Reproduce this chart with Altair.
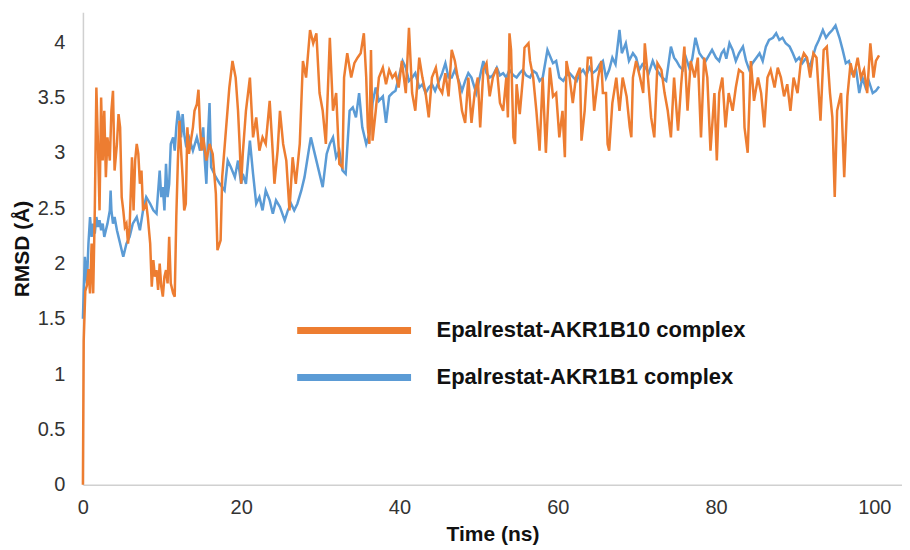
import altair as alt
import pandas as pd

S1 = "Epalrestat-AKR1B10 complex"
S2 = "Epalrestat-AKR1B1 complex"

time_b10 = [0,0.1,0.3,0.5,0.7,0.9,1.1,1.3,1.5,1.7,1.9,2.1,2.3,2.5,2.7,2.9,3.1,3.4,3.6,3.8,4.0,4.3,4.5,4.7,4.9,5.1,5.3,5.5,5.7,5.9,6.2,6.4,6.6,6.8,7.0,7.2,7.4,7.6,8.0,8.2,8.5,8.7,8.9,9.1,9.3,9.5,9.7,9.9,10.1,10.3,10.5,10.7,10.9,11.1,11.4,11.6,11.8,12.0,12.2,12.4,12.6,12.8,13.0,13.2,13.4,13.9,14.1,14.4,14.6,14.8,15.0,15.2,15.6,16.0,16.4,16.8,17.0,17.4,17.6,18.0,18.5,18.9,19.3,19.6,19.8,20.0,20.2,20.6,21.1,21.5,21.9,22.3,22.7,23.1,23.6,24.0,24.2,24.6,24.9,25.3,25.7,26.1,26.5,26.9,27.4,27.8,28.2,28.7,29.1,29.5,29.9,30.3,30.7,31.2,31.6,32.0,32.4,32.8,33.0,33.4,33.9,34.3,34.7,35.1,35.5,35.8,36.0,36.2,36.4,36.6,37.0,37.4,37.9,38.3,38.7,39.1,39.5,39.9,40.3,40.8,41.2,41.6,42.0,42.5,42.9,43.3,43.7,44.1,44.6,45.0,45.4,45.8,46.2,46.6,47.0,47.5,47.9,48.3,48.7,49.1,49.5,49.9,50.2,50.6,51.0,51.4,51.8,52.3,52.7,53.1,53.5,53.7,53.9,54.1,54.4,54.6,54.8,55.2,55.6,55.8,56.3,56.5,56.9,57.3,57.7,58.1,58.5,59.0,59.4,59.8,60.2,60.6,60.9,61.1,61.5,61.9,62.3,62.8,63.0,63.4,63.8,64.2,64.6,65.1,65.5,65.7,66.1,66.3,66.5,66.9,67.4,67.8,68.2,68.7,69.1,69.3,69.5,69.9,70.4,70.8,71.0,71.4,71.8,72.2,72.6,73.1,73.5,73.9,74.3,74.7,75.2,75.6,76.0,76.4,76.8,77.3,77.7,78.1,78.5,78.9,79.3,79.8,80.1,80.4,80.8,81.2,81.6,82.1,82.5,82.9,83.4,83.6,84.0,84.4,84.8,85.3,85.7,86.1,86.5,86.9,87.4,87.8,88.2,88.6,89.0,89.4,89.8,90.3,90.7,91.1,91.5,91.9,92.3,92.7,93.2,93.6,94.0,94.4,94.7,95.0,95.3,95.8,96.2,96.6,97.0,97.4,97.9,98.3,98.7,99.1,99.5,99.9,100.2,100.6]
rmsd_b10 = [0.0,1.3,1.75,1.8,1.95,1.73,2.18,1.73,2.48,3.59,3.08,2.48,3.5,2.93,3.38,2.78,3.14,2.93,3.38,3.56,2.84,3.08,3.35,3.23,2.6,2.48,2.33,2.36,2.18,2.33,2.96,2.48,2.93,3.08,2.99,2.72,2.84,2.48,2.54,2.42,2.18,1.79,2.03,1.88,1.94,1.76,2.0,1.79,1.7,1.88,1.94,1.82,2.24,1.82,1.73,1.7,2.42,2.93,3.29,3.02,2.78,2.48,2.54,3.23,2.99,3.23,3.38,3.44,3.57,3.23,3.02,3.14,2.93,3.08,2.99,2.63,2.12,2.21,2.78,3.14,3.59,3.83,3.68,3.38,3.08,2.72,2.99,3.38,3.68,3.14,3.32,3.02,3.14,3.08,3.47,2.99,2.72,3.02,3.38,3.08,2.93,2.48,2.96,2.72,3.08,3.83,3.68,4.11,3.99,4.08,3.54,3.38,3.08,4.04,3.38,3.54,2.9,2.87,3.68,3.9,3.68,3.81,3.86,3.9,4.08,3.68,3.23,3.08,3.93,3.11,3.38,3.68,3.77,3.62,3.75,3.68,3.72,3.59,3.83,3.54,4.13,3.54,3.38,3.86,3.68,3.54,3.32,3.68,3.77,3.59,3.54,3.72,3.51,3.93,3.83,3.62,3.38,3.27,3.68,3.27,3.54,3.68,3.23,3.75,3.81,3.51,3.68,3.77,3.45,3.38,3.68,3.32,4.08,3.93,3.14,3.08,3.62,3.35,3.68,3.95,3.99,3.83,3.68,3.38,3.02,3.68,3.0,3.77,3.51,3.54,3.14,3.38,2.96,3.83,3.68,3.45,3.68,3.77,3.11,3.38,3.86,3.86,3.38,3.68,3.83,3.54,3.54,3.08,3.02,3.45,3.68,3.38,3.68,3.51,3.23,3.14,3.68,3.83,3.68,3.54,3.99,3.68,3.32,3.14,3.81,3.75,3.54,3.38,3.14,3.68,3.2,3.62,3.96,3.38,3.83,3.68,3.86,3.14,3.86,3.68,3.02,3.54,2.93,3.54,3.68,3.23,3.54,3.38,3.59,3.75,3.72,3.23,3.0,3.83,3.47,3.68,3.54,3.23,3.68,3.75,3.59,3.77,3.68,3.51,3.62,3.38,3.68,3.54,3.81,3.9,3.86,3.68,3.9,3.86,3.29,3.93,3.96,3.54,3.32,2.6,3.38,3.54,2.78,3.51,3.81,3.68,3.86,3.68,3.75,3.54,3.99,3.68,3.83,3.88]

time_b1 = [0,0.1,0.25,0.5,0.7,0.9,1.1,1.3,1.5,1.7,1.9,2.1,2.3,2.5,2.7,2.9,3.1,3.4,3.5,3.6,3.8,4.0,4.3,4.5,4.7,4.9,5.1,5.5,5.9,6.3,6.8,7.2,7.6,8.0,8.5,8.9,9.3,9.7,9.9,10.1,10.3,10.5,10.7,10.9,11.1,11.4,11.6,11.8,12.0,12.2,12.4,12.6,12.8,13.0,13.4,13.9,14.4,14.8,15.2,15.4,15.6,15.8,16.0,16.2,16.8,17.3,17.9,18.3,18.7,19.2,19.6,20.0,20.2,20.6,21.1,21.5,21.9,22.3,22.7,23.1,23.6,24.0,24.4,24.9,25.5,25.9,26.3,26.7,27.1,27.6,28.0,28.4,28.8,29.2,29.6,30.0,30.3,30.8,31.2,31.6,32.0,32.4,32.8,33.2,33.7,34.1,34.5,34.9,35.3,35.8,36.2,36.6,37.0,37.4,37.9,38.3,38.7,39.1,39.5,39.9,40.4,40.8,41.2,41.6,42.0,42.5,42.9,43.3,43.7,44.1,44.5,45.0,45.4,45.8,46.2,46.6,47.0,47.5,47.9,48.3,48.7,49.1,49.7,50.2,50.6,51.0,51.4,51.8,52.3,52.7,53.1,53.5,53.9,54.4,54.8,55.2,55.6,56.0,56.5,56.9,57.3,57.7,58.1,58.7,59.4,59.8,60.2,60.7,61.1,61.5,62.0,62.4,62.8,63.2,63.6,64.0,64.4,64.9,65.3,65.7,66.1,66.5,66.9,67.3,67.8,68.1,68.6,69.0,69.5,69.9,70.3,70.7,71.1,71.5,72.0,72.4,72.8,73.2,73.7,74.3,74.7,75.0,75.4,75.8,76.2,76.6,77.0,77.4,77.9,78.3,78.7,79.1,79.5,80.0,80.4,80.7,81.0,81.3,81.7,82.1,82.5,82.9,83.4,83.8,84.2,84.6,85.1,85.5,85.9,86.3,86.7,87.2,87.6,88.0,88.4,88.8,89.3,89.7,90.1,90.5,90.9,91.4,91.8,92.2,92.6,93.0,93.5,93.9,94.3,94.7,95.1,95.6,96.0,96.4,96.8,97.2,97.7,98.1,98.5,98.9,99.3,99.8,100.2,100.6]
rmsd_b1 = [1.5,1.75,2.06,1.82,2.18,2.42,2.24,2.36,2.27,2.42,2.33,2.39,2.3,2.36,2.24,2.3,2.36,2.48,2.66,2.48,2.36,2.42,2.3,2.24,2.18,2.12,2.06,2.18,2.24,2.36,2.42,2.3,2.48,2.6,2.54,2.48,2.45,2.84,2.6,2.69,2.48,2.9,2.6,2.72,3.08,3.14,3.02,3.23,3.38,3.32,3.14,3.35,3.17,3.08,3.14,3.02,3.14,3.02,3.23,2.93,2.72,3.14,3.45,2.87,2.78,2.72,2.66,2.93,2.87,2.78,2.93,2.72,2.81,2.72,3.11,2.81,2.54,2.6,2.48,2.66,2.57,2.45,2.57,2.51,2.39,2.48,2.54,2.48,2.54,2.66,2.78,2.96,3.14,3.02,2.9,2.78,2.69,2.99,3.08,3.14,2.96,3.02,2.84,2.81,3.38,3.41,3.32,3.54,3.23,3.08,3.17,3.45,3.59,3.47,3.51,3.27,3.51,3.54,3.56,3.68,3.83,3.77,3.65,3.68,3.72,3.59,3.62,3.54,3.59,3.62,3.56,3.65,3.72,3.81,3.68,3.68,3.75,3.65,3.56,3.65,3.72,3.68,3.54,3.7,3.83,3.72,3.68,3.7,3.77,3.7,3.72,3.68,3.75,3.7,3.68,3.72,3.75,3.7,3.68,3.74,3.72,3.65,3.68,3.93,3.81,3.83,3.68,3.65,3.7,3.72,3.68,3.65,3.72,3.75,3.7,3.77,3.72,3.75,3.8,3.83,3.68,3.75,3.86,3.8,4.11,3.9,3.99,3.83,3.9,3.86,3.75,3.8,3.77,3.72,3.83,3.76,3.72,3.68,3.65,3.96,3.86,3.83,3.78,3.75,3.86,3.77,3.85,4.04,3.9,3.86,3.83,3.88,3.93,3.86,3.83,3.9,3.93,3.85,3.99,3.93,3.83,3.9,3.96,3.83,3.75,3.81,3.86,3.9,3.83,3.96,4.02,4.04,4.08,4.02,4.04,3.99,3.96,3.9,3.83,3.86,3.81,3.86,3.77,3.86,3.96,4.02,4.11,4.04,4.08,4.11,4.15,4.04,3.93,3.81,3.83,3.72,3.75,3.54,3.68,3.59,3.65,3.54,3.56,3.6]

x_ticks = [0, 20, 40, 60, 80, 100]
y_ticks = [0, 0.5, 1, 1.5, 2, 2.5, 3, 3.5, 4]

df = pd.concat([
    pd.DataFrame({"time": time_b10, "rmsd": rmsd_b10, "series": S1}),
    pd.DataFrame({"time": time_b1, "rmsd": rmsd_b1, "series": S2}),
], ignore_index=True)

color = alt.Color(
    "series:N",
    scale=alt.Scale(domain=[S1, S2], range=["#ED7D31", "#5B9BD5"]),
    legend=alt.Legend(
        title=None,
        orient="none",
        legendX=211,
        legendY=305,
        symbolType="stroke",
        symbolSize=12996,
        symbolStrokeWidth=7,
        clipHeight=27,
        rowPadding=20,
        labelFontSize=22,
        labelFontWeight="bold",
        labelFont="Liberation Sans",
        labelColor="#111111",
        labelOffset=22,
        labelLimit=500,
    ),
)

x = alt.X(
    "time:Q",
    scale=alt.Scale(domain=[0, 103.5], nice=False, zero=False),
    axis=alt.Axis(
        title="Time (ns)", values=x_ticks, grid=False, ticks=False,
        domainColor="#d0d0d0", domainWidth=1.5,
        labelFontSize=20, labelColor="#333333", labelPadding=13,
        titleFontSize=21, titleFontWeight="bold", titleColor="#111111",
        titlePadding=6, labelFlush=False,
    ),
)
y = alt.Y(
    "rmsd:Q",
    scale=alt.Scale(domain=[0, 4.27], nice=False),
    axis=alt.Axis(
        title="RMSD (Å)", values=y_ticks, grid=False, ticks=False, format=".1~f",
        domainColor="#d0d0d0", domainWidth=1.5,
        labelFontSize=20, labelColor="#333333", labelPadding=18,
        titleFontSize=21, titleFontWeight="bold", titleColor="#111111",
        titlePadding=5, labelFlush=False,
    ),
)

base = alt.Chart(df)
blue = base.transform_filter(alt.datum.series == S2).mark_line(strokeWidth=2.5).encode(x=x, y=y, color=color)
orange = base.transform_filter(alt.datum.series == S1).mark_line(strokeWidth=2.5).encode(x=x, y=y, color=color)

chart = alt.layer(blue, orange).properties(
    width=820,
    height=473,
    autosize=alt.AutoSizeParams(type="none"),
    padding={"left": 75, "top": 4, "right": 0, "bottom": 60},
).configure_view(stroke=None).configure_axis(
    labelFont="Liberation Sans", titleFont="Liberation Sans"
)

chart.save("out.html", embed_options={"renderer": "svg", "actions": False})
